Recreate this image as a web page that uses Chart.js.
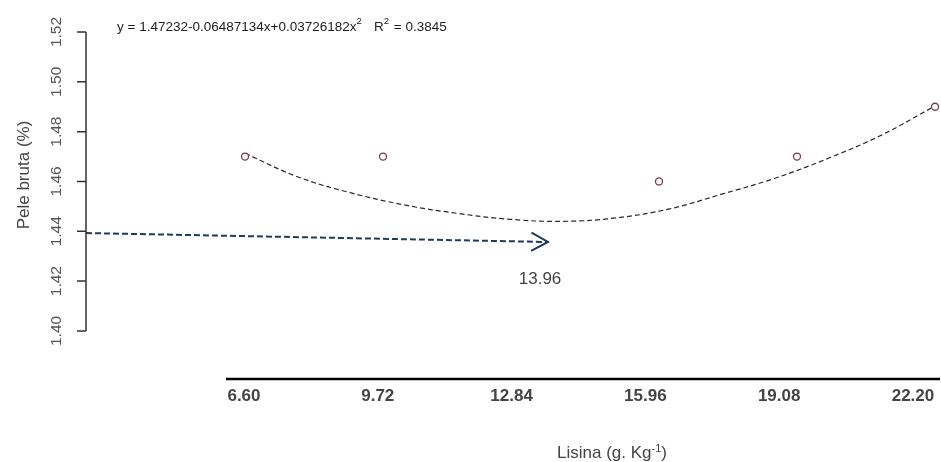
<!DOCTYPE html>
<html>
<head>
<meta charset="utf-8">
<script src="https://cdn.jsdelivr.net/npm/chart.js@4.4.1/dist/chart.umd.min.js"></script>
<style>
  html, body { margin: 0; padding: 0; background: #fff; }
  canvas { display: block; }
</style>
</head>
<body>
<canvas id="myChart" width="941" height="462"></canvas>
<script>
// observed means
const lysine = [6.60, 9.72, 15.96, 19.08, 22.20];
const skin = [1.47, 1.47, 1.46, 1.47, 1.49];

// dashed fitted curve
const fitX = [6.6, 7.8, 9.0, 10.2, 11.4, 12.6, 13.8, 15.0, 16.2, 17.4, 18.6, 19.8, 21.0, 22.2];
const fitY = [1.4713, 1.4618, 1.4554, 1.4506, 1.4472, 1.4448, 1.4440, 1.4454, 1.4490, 1.4550, 1.4614, 1.4694, 1.4787, 1.4903];

// arrow pointing at the optimum
const arrowX = [3.005, 13.45];
const arrowY = [1.4393, 1.4357];
const optimumLabel = "13.96";

const yTicks = [1.40, 1.42, 1.44, 1.46, 1.48, 1.50, 1.52];
const xTickLabels = ["6.60", "9.72", "12.84", "15.96", "19.08", "22.20"];

const equation = ["y = 1.47232-0.06487134x+0.03726182x", "2", "   R", "2", " = 0.3845"];

const pts = (xs, ys) => xs.map((x, i) => ({ x: x, y: ys[i] }));

// axes, titles, arrow head etc. (R style)
const decor = {
    id: "decor",
    afterDraw(chart) {
        const ctx = chart.ctx;
        const x = chart.scales.x, y = chart.scales.y, xb = chart.scales.xb;
        const left = chart.chartArea.left, bottom = chart.chartArea.bottom, right = chart.chartArea.right;
        ctx.save();

        // y axis
        ctx.strokeStyle = "#333";
        ctx.lineWidth = 1.5;
        ctx.beginPath();
        ctx.moveTo(left, y.getPixelForValue(yTicks[0]));
        ctx.lineTo(left, y.getPixelForValue(yTicks[yTicks.length - 1]));
        yTicks.forEach(v => {
            const py = y.getPixelForValue(v);
            ctx.moveTo(left - 9, py);
            ctx.lineTo(left, py);
        });
        ctx.stroke();

        ctx.fillStyle = "#555";
        ctx.font = "15.5px 'Liberation Sans', Arial, sans-serif";
        ctx.textAlign = "center";
        ctx.textBaseline = "middle";
        yTicks.forEach(v => {
            ctx.save();
            ctx.translate(57, y.getPixelForValue(v));
            ctx.rotate(-Math.PI / 2);
            ctx.fillText(v.toFixed(2), 0, 0);
            ctx.restore();
        });

        ctx.save();
        ctx.translate(24, 175);
        ctx.rotate(-Math.PI / 2);
        ctx.fillStyle = "#444";
        ctx.font = "17px 'Liberation Sans', Arial, sans-serif";
        ctx.fillText("Pele bruta (%)", 0, 0);
        ctx.restore();

        // bottom axis
        ctx.strokeStyle = "#000";
        ctx.lineWidth = 2.5;
        ctx.beginPath();
        ctx.moveTo(226, bottom);
        ctx.lineTo(right, bottom);
        ctx.stroke();

        ctx.fillStyle = "#444";
        ctx.font = "bold 17px 'Liberation Sans Narrow', 'Arial Narrow', sans-serif";
        xTickLabels.forEach(t => {
            ctx.fillText(t, xb.getPixelForValue(parseFloat(t)), 396);
        });

        // x title with superscript
        ctx.textAlign = "left";
        ctx.textBaseline = "alphabetic";
        let tx = 557;
        const base = 458;
        ctx.font = "17px 'Liberation Sans', Arial, sans-serif";
        ctx.fillText("Lisina (g. Kg", tx, base);
        tx += ctx.measureText("Lisina (g. Kg").width;
        ctx.font = "11px 'Liberation Sans', Arial, sans-serif";
        ctx.fillText("-1", tx, base - 6);
        tx += ctx.measureText("-1").width;
        ctx.font = "17px 'Liberation Sans', Arial, sans-serif";
        ctx.fillText(")", tx, base);

        // equation
        let ex = 117;
        equation.forEach((part, i) => {
            const sup = i === 1 || i === 3;
            ctx.font = (sup ? "9.5px" : "13.5px") + " 'Liberation Sans', Arial, sans-serif";
            ctx.fillStyle = "#222";
            ctx.fillText(part, ex, sup ? 24 : 30.5);
            ex += ctx.measureText(part).width + (sup ? 1 : 0);
        });

        // arrow head
        const arr = chart.getDatasetMeta(2).data;
        const p1 = arr[arr.length - 2], p2 = arr[arr.length - 1];
        const ang = Math.atan2(p2.y - p1.y, p2.x - p1.x);
        ctx.strokeStyle = "#1f3864";
        ctx.lineWidth = 2;
        ctx.setLineDash([]);
        ctx.beginPath();
        ctx.moveTo(p2.x - 19 * Math.cos(ang - 0.5), p2.y - 19 * Math.sin(ang - 0.5));
        ctx.lineTo(p2.x, p2.y);
        ctx.lineTo(p2.x - 19 * Math.cos(ang + 0.5), p2.y - 19 * Math.sin(ang + 0.5));
        ctx.stroke();

        ctx.fillStyle = "#444";
        ctx.font = "17px 'Liberation Sans', Arial, sans-serif";
        ctx.textAlign = "center";
        ctx.textBaseline = "middle";
        ctx.fillText(optimumLabel, x.getPixelForValue(13.27), y.getPixelForValue(1.4209));

        ctx.restore();
    }
};

window.onload = function() {
    const ctx = document.getElementById("myChart").getContext("2d");
    new Chart(ctx, {
        type: "line",
        data: {
            datasets: [
                {
                    type: "scatter",
                    data: pts(lysine, skin),
                    showLine: false,
                    pointStyle: "circle",
                    pointRadius: 3.5,
                    borderWidth: 1.3,
                    borderColor: "#7d3b4a",
                    backgroundColor: "#fff",
                },
                {
                    data: pts(fitX, fitY),
                    borderColor: "#2a2a2a",
                    borderWidth: 1.2,
                    borderDash: [5, 3],
                    pointRadius: 0,
                    tension: 0.4,
                    fill: false,
                },
                {
                    data: pts(arrowX, arrowY),
                    borderColor: "#1f3864",
                    borderWidth: 2,
                    borderDash: [6, 3],
                    pointRadius: 0,
                    fill: false,
                },
            ],
        },
        options: {
            responsive: false,
            animation: false,
            layout: { autoPadding: false, padding: { left: 86, right: 1, top: 32, bottom: 83 } },
            plugins: { legend: { display: false }, tooltip: { enabled: false } },
            scales: {
                x: { type: "linear", min: 3.005, max: 22.313, display: false },
                xb: { type: "linear", axis: "x", position: "bottom", min: 2.916, max: 22.83, display: false },
                y: { type: "linear", min: 1.3807, max: 1.52, display: false },
            },
        },
        plugins: [decor],
    });
};
</script>
</body>
</html>
